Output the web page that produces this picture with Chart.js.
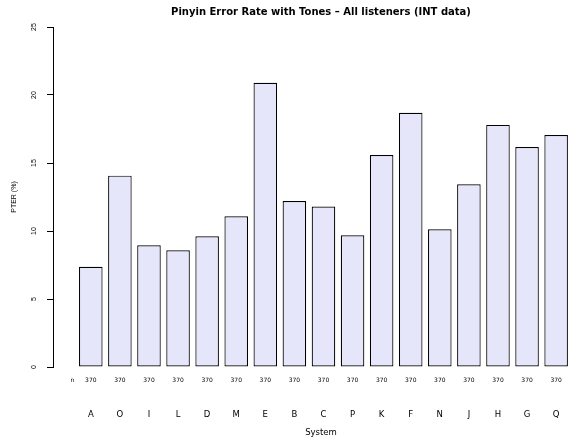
<!DOCTYPE html>
<html lang="en">
<head>
  <meta charset="UTF-8">
  <title>Pinyin Error Rate with Tones</title>
  <script src="https://cdn.jsdelivr.net/npm/chart.js"></script>
  <style>
    html, body {
      margin: 0;
      padding: 0;
      overflow: hidden;
      background: #fff;
    }
    /* the original figure is cut off on the right, so the chart is wider than the window */
    #wrap {
      width: 568px;
      height: 439px;
      overflow: hidden;
    }
    #box {
      position: relative;
      width: 642px;
      height: 439px;
    }
  </style>
</head>
<body>
  <div id="wrap">
    <div id="box"><canvas id="pterChart"></canvas></div>
  </div>

  <script>
    // values
    const systems = ['A', 'O', 'I', 'L', 'D', 'M', 'E', 'B', 'C', 'P', 'K', 'F', 'N', 'J', 'H', 'G', 'Q'];
    const pter = [7.37, 14.07, 8.95, 8.58, 9.61, 11.08, 20.9, 12.2, 11.8, 9.68, 15.59, 18.7, 10.12, 13.43, 17.8, 16.18, 17.06];
    const listeners = [370, 370, 370, 370, 370, 370, 370, 370, 370, 370, 370, 370, 370, 370, 370, 370, 370];
    const yTicks = [0, 5, 10, 15, 20, 25];

    const nLabel = 'n';
    const nPos = 0.37;      // where the "n" caption sits on the x scale
    const xMin = -0.30;
    const xMax = 18.13;

    const barTicks = () => systems.map((s, i) => ({ value: i + 1 }));

    const ctx = document.getElementById('pterChart').getContext('2d');
    new Chart(ctx, {
      type: 'bar',
      data: {
        datasets: [{
          label: 'PTER (%)',
          data: systems.map((s, i) => ({ x: i + 1, y: pter[i] })),
          backgroundColor: '#E6E6FA',
          borderColor: '#000',
          borderWidth: 1.2,
          borderSkipped: false,
          categoryPercentage: 1,
          barPercentage: 0.81,
          xAxisID: 'x2',
          yAxisID: 'y'
        }]
      },
      options: {
        responsive: true,
        maintainAspectRatio: false,
        animation: false,
        layout: {
          padding: { top: 0, right: 0, bottom: 0.4, left: 0 }
        },
        plugins: {
          legend: { display: false },
          tooltip: { enabled: false },
          title: {
            display: true,
            text: 'Pinyin Error Rate with Tones \u2013 All listeners (INT data)',
            color: '#000',
            font: { family: 'DejaVu Sans', size: 10, weight: 'bold' },
            padding: { top: 6, bottom: 9 }
          }
        },
        scales: {
          // "n" and the listener counts, right under the bars
          x: {
            type: 'linear',
            position: 'bottom',
            weight: 1,
            offset: false,
            min: xMin,
            max: xMax,
            grid: { display: false, drawTicks: false },
            border: { display: false },
            afterBuildTicks: scale => {
              scale.ticks = [{ value: nPos }].concat(barTicks());
            },
            afterFit: scale => {
              scale.height = 17.2;
            },
            ticks: {
              autoSkip: false,
              maxRotation: 0,
              padding: 10,
              color: '#000',
              font: { family: 'DejaVu Sans', size: 6 },
              callback: value => value === nPos ? nLabel : String(listeners[value - 1])
            }
          },
          // system letters and axis title
          x2: {
            type: 'linear',
            position: 'bottom',
            weight: 2,
            offset: false,
            min: xMin,
            max: xMax,
            grid: { display: false, drawTicks: false },
            border: { display: false },
            afterBuildTicks: scale => {
              scale.ticks = barTicks();
            },
            afterFit: scale => {
              scale.height = 54.4;
            },
            ticks: {
              autoSkip: false,
              maxRotation: 0,
              padding: 25,
              color: '#000',
              font: { family: 'DejaVu Sans', size: 8.5 },
              callback: value => systems[value - 1]
            },
            title: {
              display: true,
              text: 'System',
              color: '#000',
              font: { family: 'DejaVu Sans', size: 8.5 },
              padding: { top: 8, bottom: 1 }
            }
          },
          y: {
            min: 0,
            max: 25,
            afterBuildTicks: scale => {
              scale.ticks = yTicks.map(v => ({ value: v }));
            },
            afterFit: scale => {
              scale.width = 53;
            },
            grid: {
              drawOnChartArea: false,
              drawTicks: true,
              tickLength: 6,
              color: '#000'
            },
            border: { display: true, color: '#000', width: 1 },
            ticks: {
              minRotation: 90,
              maxRotation: 90,
              crossAlign: 'center',
              padding: 9,
              color: '#000',
              font: { family: 'Liberation Sans', size: 7 }
            },
            title: {
              display: true,
              text: 'PTER (%)',
              color: '#000',
              font: { family: 'Liberation Sans', size: 7 },
              padding: { top: 9.8 }
            }
          },
          // empty right margin of the original plot region
          yRight: {
            position: 'right',
            grid: { display: false },
            border: { display: false },
            ticks: { display: false },
            afterFit: scale => {
              scale.width = 53;
            }
          }
        }
      }
    });
  </script>
</body>
</html>
